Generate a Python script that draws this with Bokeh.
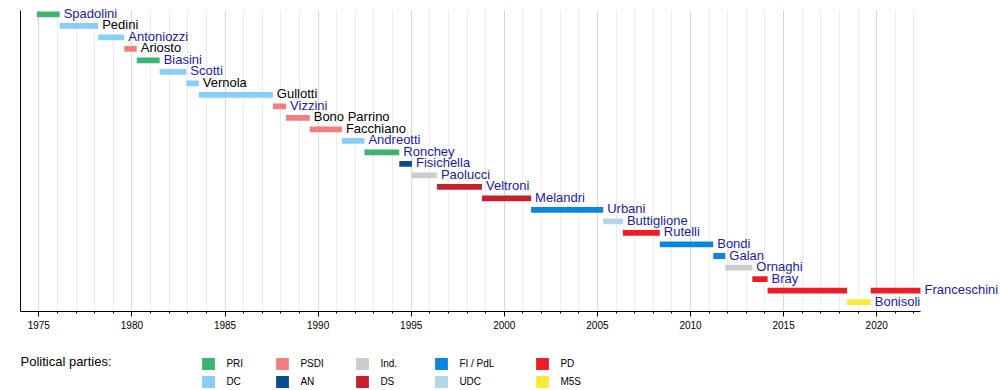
from bokeh.plotting import figure
from bokeh.models import (ColumnDataSource, FixedTicker, Grid, Range1d, LabelSet,
                          Label, Legend, LegendItem, BoxAnnotation)
from bokeh.layouts import column
from bokeh.core.properties import value
from bokeh.embed import file_html
from bokeh.resources import INLINE

FONT = "Liberation Sans"

# ---------------- data ----------------
ministers = ["Spadolini", "Pedini", "Antoniozzi", "Ariosto", "Biasini", "Scotti",
             "Vernola", "Gullotti", "Vizzini", "Bono Parrino", "Facchiano",
             "Andreotti", "Ronchey", "Fisichella", "Paolucci", "Veltroni",
             "Melandri", "Urbani", "Buttiglione", "Rutelli", "Bondi", "Galan",
             "Ornaghi", "Bray", "Franceschini", "Bonisoli"]

term_minister = ["Spadolini", "Pedini", "Antoniozzi", "Ariosto", "Biasini", "Scotti",
                 "Vernola", "Gullotti", "Vizzini", "Bono Parrino", "Facchiano",
                 "Andreotti", "Ronchey", "Fisichella", "Paolucci", "Veltroni",
                 "Melandri", "Urbani", "Buttiglione", "Rutelli", "Bondi", "Galan",
                 "Ornaghi", "Bray", "Franceschini", "Bonisoli", "Franceschini"]
term_party = ["PRI", "DC", "DC", "PSDI", "PRI", "DC", "DC", "DC", "PSDI", "PSDI",
              "PSDI", "DC", "PRI", "AN", "Ind.", "DS", "DS", "FI / PdL", "UDC", "PD",
              "FI / PdL", "FI / PdL", "Ind.", "PD", "PD", "M5S", "PD"]
term_start = [1974.90, 1976.12, 1978.19, 1979.59, 1980.26, 1981.49, 1982.92, 1983.59,
              1987.57, 1988.28, 1989.55, 1991.28, 1992.49, 1994.36, 1995.04, 1996.38,
              1998.80, 2001.44, 2005.31, 2006.37, 2008.35, 2011.22, 2011.87, 2013.32,
              2014.14, 2018.41, 2019.68]
term_end = [1976.12, 1978.19, 1979.59, 1980.26, 1981.49, 1982.92, 1983.59, 1987.57,
            1988.28, 1989.55, 1991.28, 1992.49, 1994.36, 1995.04, 1996.38, 1998.80,
            2001.44, 2005.31, 2006.37, 2008.35, 2011.22, 2011.87, 2013.32, 2014.14,
            2018.41, 2019.68, 2022.35]

party_names = ["PRI", "DC", "PSDI", "AN", "Ind.", "DS", "FI / PdL", "UDC", "PD", "M5S"]
party_colors = ["#3cb371", "#87cefa", "#f08080", "#0a4c8f", "#cccccc", "#c8202f",
                "#0a87dc", "#b0d4e8", "#ee1c25", "#fde93a"]
legend_columns = [["PRI", "DC"], ["PSDI", "AN"], ["Ind.", "DS"],
                  ["FI / PdL", "UDC"], ["PD", "M5S"]]

unlinked = ["Pedini", "Ariosto", "Vernola", "Gullotti", "Bono Parrino", "Facchiano"]

tick_years = list(range(1975, 2021, 5))
minor_years = list(range(1974, 2023))
grid_years = list(range(1975, 2023))

x_start, x_end = 1974.017, 2022.35
y_top = -0.348          # top of the timeline area (in row units)
PX_PER_YEAR = 18.62

# ---------------- main figure ----------------
pcolor = dict(zip(party_names, party_colors))
rows = [ministers.index(m) for m in term_minister]
bars = ColumnDataSource(dict(row=rows, left=term_start, right=term_end,
                             color=[pcolor[pp] for pp in term_party]))

label_x = []
for m in ministers:
    label_x.append(max(e for mm, e in zip(term_minister, term_end) if mm == m))
labels_src = ColumnDataSource(dict(
    x=label_x, row=list(range(len(ministers))), name=ministers,
    color=["#000000" if m in unlinked else "#1a1aa6" for m in ministers]))

W = 1000
LEFT = 20
y_bottom = len(ministers) - 1 + 0.826
p = figure(width=W, height=341,
           x_range=Range1d(x_start, x_start + (W - LEFT) / PX_PER_YEAR),
           y_range=Range1d(y_bottom, -1.217),
           output_backend="svg", toolbar_location=None,
           min_border_left=LEFT, min_border_right=0, min_border_top=0,
           min_border_bottom=30)
p.outline_line_color = None
p.ygrid.visible = False

p.xgrid.ticker = FixedTicker(ticks=grid_years)
p.xgrid.grid_line_color = "#ececec"
g5 = Grid(dimension=0, ticker=FixedTicker(ticks=tick_years), grid_line_color="#d8d8d8")
p.add_layout(g5)
# keep the grid lines from running above the timeline area
p.add_layout(BoxAnnotation(bottom=y_top, fill_color="white", fill_alpha=1.0,
                           line_color=None, level="underlay"))

xa = p.xaxis[0]
xa.ticker = FixedTicker(ticks=tick_years, minor_ticks=minor_years)
xa.bounds = (x_start, x_end)
xa.major_tick_in = 0
xa.major_tick_out = 5
xa.minor_tick_in = 0
xa.minor_tick_out = 2
xa.axis_line_color = "black"
xa.major_tick_line_color = "black"
xa.minor_tick_line_color = "black"
xa.major_label_text_font = FONT
xa.major_label_text_font_size = "10px"
xa.major_label_text_color = "black"
xa.major_label_standoff = 4

ya = p.yaxis[0]
ya.ticker = FixedTicker(ticks=[])
ya.bounds = (y_top, y_bottom)
ya.major_tick_out = 0
ya.major_tick_in = 0
ya.minor_tick_out = 0
ya.minor_tick_in = 0
ya.major_label_standoff = 0
ya.major_label_text_font_size = "0px"
ya.axis_line_color = "black"

p.hbar(y="row", left="left", right="right", height=0.5, fill_color="color",
       line_color=None, source=bars)

p.add_layout(LabelSet(x="x", y="row", text="name", source=labels_src,
                      x_offset=4, y_offset=1, text_baseline="middle",
                      text_font=value(FONT), text_font_size="13px",
                      text_color="color"))

# ---------------- legend figure ----------------
lg = figure(width=W, height=49, x_range=Range1d(0, 1), y_range=Range1d(0, 1),
            x_axis_type=None, y_axis_type=None, output_backend="svg",
            toolbar_location=None, min_border_left=LEFT, min_border_right=0,
            min_border_top=0, min_border_bottom=0)
lg.outline_line_color = None
lg.grid.visible = False

# the bars' own renderer (out of view here) supplies the legend swatches
swatch_r = lg.hbar(y="row", left="left", right="right", height=0.5,
                   fill_color="color", line_color=None, source=bars)

lg.add_layout(Label(x=0, y=29, x_units="screen", y_units="screen",
                    text="Political parties:", text_font=FONT,
                    text_font_size="13px", text_color="black",
                    text_baseline="middle"))

col_x = [180.4, 254.4, 334.4, 413.4, 514.4]
for cx, col in zip(col_x, legend_columns):
    items = [LegendItem(label=party, renderers=[swatch_r],
                        index=term_party.index(party)) for party in col]
    leg = Legend(items=items, location=(cx, 1.5), orientation="vertical",
                 glyph_width=16, glyph_height=15, label_height=15, spacing=3,
                 label_standoff=10, padding=0, margin=0,
                 border_line_color=None, background_fill_alpha=0,
                 label_text_font=FONT, label_text_font_size="10px",
                 label_text_color="black")
    lg.add_layout(leg)

layout = column(p, lg, spacing=0)
open("out.html", "w").write(file_html(layout, INLINE))
